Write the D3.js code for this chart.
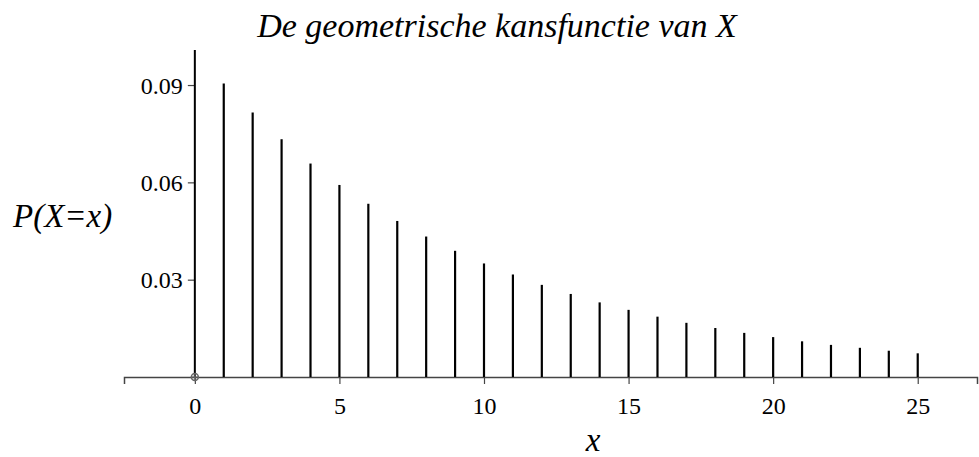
<!DOCTYPE html>
<html>
<head>
<meta charset="utf-8">
<script src="https://cdn.jsdelivr.net/npm/d3@7"></script>
<style>
  html, body { margin: 0; padding: 0; background: #fff; }
</style>
</head>
<body>
<svg id="chart" width="979" height="457" style="display:block"></svg>
<script>
// Geometric probability function P(X = x), x = 0 .. 25
const xValues = [0, 1, 2, 3, 4, 5, 6, 7, 8, 9, 10, 11, 12, 13, 14, 15, 16, 17, 18, 19, 20, 21, 22, 23, 24, 25];
const probabilities = [0, 0.0905, 0.0815, 0.0733, 0.0658, 0.0592, 0.0534, 0.0481, 0.0433, 0.0389,
  0.0350, 0.0316, 0.0284, 0.0256, 0.0230, 0.0207, 0.0186, 0.0167, 0.0151, 0.0136,
  0.0123, 0.0110, 0.0099, 0.0090, 0.0081, 0.0073];
const xTicks = [0, 5, 10, 15, 20, 25];
const yTicks = [0.03, 0.06, 0.09];

const SERIF = "Liberation Serif, Times New Roman, Times, serif";
const svg = d3.select("#chart").attr("font-family", SERIF);

const x = d3.scaleLinear().domain([-2.45, 27.05]).range([124, 977]);
const y = d3.scaleLinear().domain([0, 0.1008]).range([377, 50]);

// Title and axis labels
svg.append("text")
  .attr("x", 497).attr("y", 37)
  .attr("text-anchor", "middle")
  .attr("font-family", SERIF)
  .attr("font-style", "italic")
  .attr("font-size", 34)
  .text("De geometrische kansfunctie van X");

svg.append("text")
  .attr("x", 13).attr("y", 227)
  .attr("font-family", SERIF)
  .attr("font-style", "italic")
  .attr("font-size", 33)
  .text("P(X=x)");

svg.append("text")
  .attr("x", 593).attr("y", 451)
  .attr("text-anchor", "middle")
  .attr("font-family", SERIF)
  .attr("font-style", "italic")
  .attr("font-size", 33)
  .text("x");

// x axis
const xAxis = svg.append("g")
  .attr("transform", `translate(0,${y(0)})`)
  .call(d3.axisBottom(x).tickValues(xTicks).tickSize(7).tickPadding(12).tickFormat(d3.format("d")));
xAxis.attr("font-family", SERIF).attr("font-size", 24);
xAxis.select(".domain").attr("stroke", "#444").attr("stroke-width", 1.5);
xAxis.selectAll(".tick line").attr("stroke", "#444").attr("stroke-width", 1.2);
xAxis.selectAll(".tick text").attr("fill", "#000").attr("dy", null).attr("y", 37);

// y axis
const yAxis = svg.append("g")
  .attr("transform", `translate(${x(0)},0)`)
  .call(d3.axisLeft(y).tickValues(yTicks).tickSize(7).tickPadding(6).tickFormat(d3.format(".2f")));
yAxis.attr("font-family", SERIF).attr("font-size", 24);
yAxis.select(".domain").remove();
yAxis.append("line")
  .attr("x1", 0).attr("x2", 0)
  .attr("y1", y(0)).attr("y2", y.range()[1])
  .attr("stroke", "#000").attr("stroke-width", 2);
yAxis.selectAll(".tick line").attr("stroke", "#444").attr("stroke-width", 1.2);
yAxis.selectAll(".tick text").attr("fill", "#000").attr("x", -12).attr("dy", "0.34em");

// Stems
const data = xValues.map((v, i) => ({ x: v, p: probabilities[i] }));
svg.append("g")
  .selectAll("line")
  .data(data.filter(d => d.p > 0))
  .join("line")
  .attr("x1", d => x(d.x)).attr("x2", d => x(d.x))
  .attr("y1", y(0)).attr("y2", d => y(d.p))
  .attr("stroke", "#000")
  .attr("stroke-width", 2.2);

// Point marker for zero-probability values
const zeroPts = svg.append("g")
  .selectAll("g")
  .data(data.filter(d => d.p === 0))
  .join("g")
  .attr("transform", d => `translate(${x(d.x)},${y(d.p)})`);
zeroPts.append("circle").attr("r", 3.5).attr("fill", "none").attr("stroke", "#666").attr("stroke-width", 1.5);
zeroPts.append("path").attr("d", "M-4,0H4M0,-4V4").attr("stroke", "#666").attr("stroke-width", 1.2);
</script>
</body>
</html>
